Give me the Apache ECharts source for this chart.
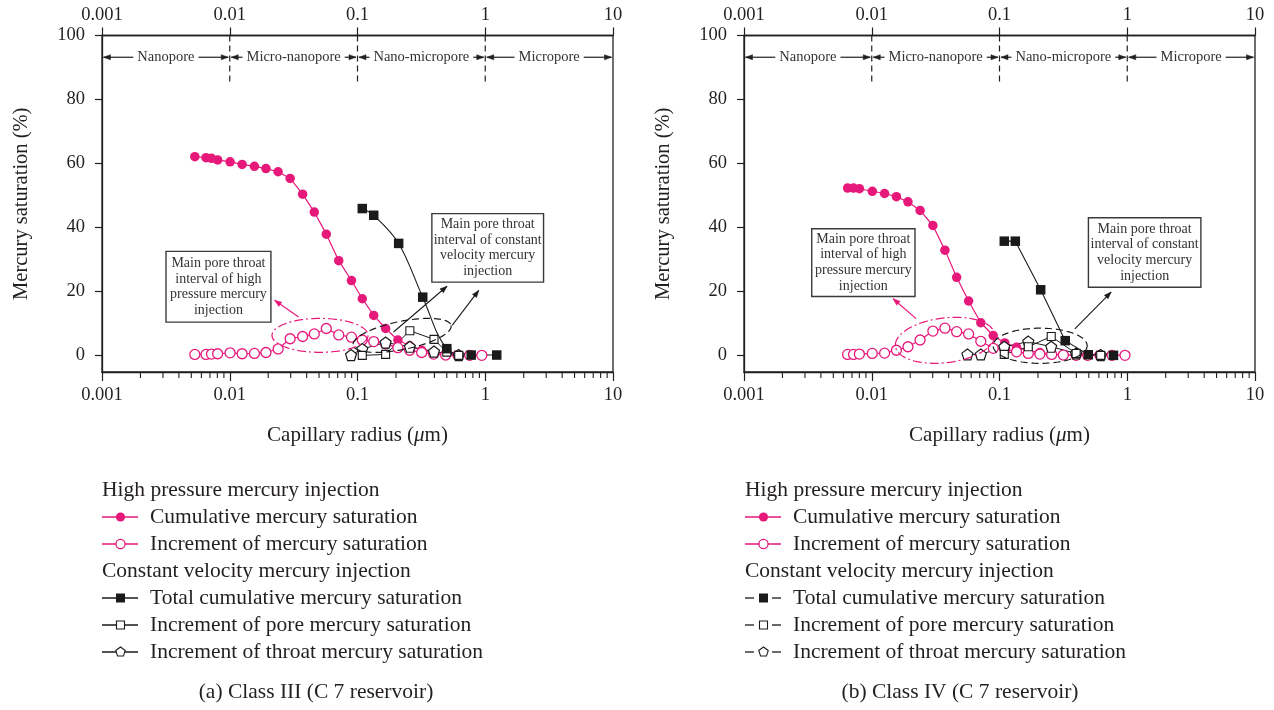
<!DOCTYPE html>
<html><head><meta charset="utf-8">
<script src="https://cdn.jsdelivr.net/npm/echarts@6/dist/echarts.min.js"></script>
<style>html,body{margin:0;padding:0;background:#fff}#c{width:1274px;height:710px}</style>
</head><body><div id="c"></div>
<script>
// ---------------- DATA ----------------
const tickValues = [0.001, 0.01, 0.1, 1, 10];
const tickLabels = ['0.001', '0.01', '0.1', '1', '10'];
const yTicks = [0, 20, 40, 60, 80, 100];
const regionBounds = [0.001, 0.01, 0.1, 1, 10];
const regionNames = ['Nanopore', 'Micro-nanopore', 'Nano-micropore', 'Micropore'];

// (a) Class III - high pressure mercury injection
const hpRadiusA = [0.00533,0.00652,0.0072,0.00804,0.01006,0.0125,0.0156,0.0192,0.0239,0.0297,0.0372,0.0459,0.0570,0.0713,0.0897,0.109,0.134,0.166,0.207,0.256,0.318,0.394,0.49,0.61,0.755,0.94];
const hpCumA    = [62.1,61.8,61.6,61.1,60.5,59.7,59.1,58.4,57.4,55.3,50.4,44.8,37.9,29.6,23.4,17.7,12.5,8.4,4.8,3.0,1.6,0.7,0.3,0.1,0,0];
const hpIncA    = [0.3,0.3,0.4,0.5,0.8,0.5,0.6,0.9,2.0,5.2,5.9,6.7,8.4,6.4,5.7,4.8,4.3,3.6,2.4,1.6,0.9,0.4,0.1,0,0,0];
// (a) constant velocity mercury injection
const cvTotRadiusA = [0.109,0.134,0.210,0.324,0.50,0.776,1.23];
const cvTotA       = [45.9,43.8,35.0,18.2,2.1,0.1,0.1];
const cvPoreRadiusA = [0.109,0.166,0.257,0.397,0.50,0.62];
const cvPoreA       = [0,0.3,7.7,5.0,1.0,0];
const cvThroatRadiusA = [0.089,0.109,0.166,0.257,0.397,0.62];
const cvThroatA       = [0.1,2.0,4.0,2.7,1.2,0.1];

// (b) Class IV - high pressure mercury injection
const hpRadiusB = [0.00647,0.0072,0.0080,0.0101,0.0126,0.0156,0.0192,0.0239,0.0301,0.0374,0.0462,0.0573,0.0714,0.0893,0.110,0.136,0.168,0.207,0.256,0.316,0.398,0.49,0.61,0.76,0.96];
const hpCumB    = [52.3,52.3,52.1,51.3,50.6,49.6,48.0,45.3,40.6,32.9,24.4,17.0,10.2,6.2,3.9,2.5,1.5,0.9,0.5,0.2,0.1,0,0,0,0];
const hpIncB    = [0.3,0.3,0.4,0.6,0.7,1.6,2.7,4.8,7.6,8.5,7.4,6.7,4.4,2.2,1.9,1.1,0.6,0.4,0.3,0.1,0,0,0,0,0];
// (b) constant velocity mercury injection
const cvTotRadiusB = [0.109,0.133,0.21,0.327,0.495,0.78];
const cvTotB       = [35.7,35.7,20.5,4.6,0.2,0];
const cvPoreRadiusB = [0.109,0.168,0.254,0.398,0.62];
const cvPoreB       = [0.3,2.7,5.9,0.6,0];
const cvThroatRadiusB = [0.0561,0.0714,0.109,0.168,0.254,0.398,0.62];
const cvThroatB       = [0.3,0.3,2.7,4.3,2.7,0.6,0.1];

const legendHeads = ['High pressure mercury injection', 'Constant velocity mercury injection'];
const legendNames = ['Cumulative mercury saturation', 'Increment of mercury saturation',
  'Total cumulative mercury saturation', 'Increment of pore mercury saturation', 'Increment of throat mercury saturation'];
const captions = ['(a) Class III (C 7 reservoir)', '(b) Class IV (C 7 reservoir)'];
const boxTexts = [['Main pore throat','interval of high','pressure mercury','injection'],
                  ['Main pore throat','interval of constant','velocity mercury','injection']];

// ---------------- LAYOUT / STYLE ----------------
const FONT = '"Liberation Serif", "Times New Roman", serif';
const INK = '#231f20';
const PINK = '#e6197b';
const BLACK = '#1a1a1a';
const Y_MIN = -5.2;
const LEG_FS = 21.5;
const grids = [{left: 102, top: 35.5, width: 511, height: 336.5}, {left: 744, top: 35.5, width: 511, height: 336.5}];
const legendX = [102, 745];
const captionX = [316, 960];
// annotation placement in data coordinates
const annot = [
  { pinkBox: [[0.00317, 32.5], [0.0210, 10.4]], blackBox: [[0.382, 44.3], [2.86, 22.9]],
    pinkEll: {c: [0.0509, 6.25], rxDec: 0.376, ry: 5.3, rot: 0},
    blackEll: {c: [0.2234, 6.25], rxDec: 0.3915, ry: 4.4, rot: 0.2},
    pinkArrows: [[[0.0346, 12.0], [0.02244, 17.2]]],
    blackArrows: [[[0.1914, 7.3], [0.502, 21.6]], [[0.551, 9.4], [0.889, 20.3]]],
    dashBlackLegend: false },
  { pinkBox: [[0.00339, 39.6], [0.0218, 18.4]], blackBox: [[0.4966, 43.0], [3.77, 21.3]],
    pinkEll: {c: [0.0375, 4.7], rxDec: 0.3915, ry: 7.0, rot: 0.12},
    blackEll: {c: [0.208, 3.0], rxDec: 0.368, ry: 5.5, rot: 0},
    pinkArrows: [[[0.02224, 11.5], [0.01469, 17.7]]],
    blackArrows: [[[0.389, 8.3], [0.748, 19.8]]],
    dashBlackLegend: true }
];

const PENT = 'path://M0,-10 L9.51,-3.09 L5.88,8.09 L-5.88,8.09 L-9.51,-3.09 Z';
const zip = (xs, ys) => xs.map((x, i) => [x, ys[i]]);
const fmtTick = v => {
  const i = tickValues.findIndex(t => Math.abs(Math.log10(t) - Math.log10(v)) < 1e-6);
  return i >= 0 ? tickLabels[i] : '';
};

const xAxes = [], yAxes = [], series = [];
[0, 1].forEach(g => {
  xAxes.push({
    type: 'log', logBase: 10, gridIndex: g, min: 0.001, max: 10, position: 'bottom',
    name: 'Capillary radius ({i|μ}m)', nameLocation: 'middle', nameGap: 53,
    nameTextStyle: {fontFamily: FONT, fontSize: 21, color: INK,
      rich: {i: {fontFamily: FONT, fontSize: 21, fontStyle: 'italic', color: INK}}},
    axisLine: {show: true, onZero: false, lineStyle: {color: INK, width: 1.3}},
    axisTick: {show: true, inside: false, length: 9, lineStyle: {color: INK, width: 1.2}},
    minorTick: {show: false},
    axisLabel: {formatter: fmtTick, fontFamily: FONT, fontSize: 18.5, color: INK, margin: 14},
    splitLine: {show: false}
  });
});
[0, 1].forEach(g => {
  xAxes.push({
    type: 'log', logBase: 10, gridIndex: g, min: 0.001, max: 10, position: 'top',
    axisLine: {show: true, onZero: false, lineStyle: {color: INK, width: 1.3}},
    axisTick: {show: true, inside: false, length: 8, lineStyle: {color: INK, width: 1.2}},
    axisLabel: {formatter: fmtTick, fontFamily: FONT, fontSize: 18.5, color: INK, margin: 11},
    splitLine: {show: false}
  });
  yAxes.push({
    type: 'value', gridIndex: g, min: Y_MIN, max: 100,
    name: 'Mercury saturation (%)', nameLocation: 'middle', nameGap: 70,
    nameTextStyle: {fontFamily: FONT, fontSize: 20.5, color: INK},
    axisLine: {show: true, onZero: false, lineStyle: {color: INK, width: 1.3}},
    axisTick: {show: true, inside: false, length: 7, customValues: yTicks, lineStyle: {color: INK, width: 1.2}},
    axisLabel: {customValues: yTicks, fontFamily: FONT, fontSize: 18.5, color: INK, margin: 17},
    splitLine: {show: false}
  });
});

function addSeries(g, d) {
  const base = {type: 'line', xAxisIndex: g, yAxisIndex: g, animation: false, z: 3};
  series.push(Object.assign({}, base, {name: legendNames[0], data: zip(d.hpR, d.hpCum),
    symbol: 'circle', symbolSize: 9.5, lineStyle: {color: PINK, width: 1.2},
    itemStyle: {color: PINK}}));
  series.push(Object.assign({}, base, {name: legendNames[1], data: zip(d.hpR, d.hpInc),
    symbol: 'circle', symbolSize: 10, lineStyle: {color: PINK, width: 1.2},
    itemStyle: {color: '#fff', borderColor: PINK, borderWidth: 1.3}}));
  series.push(Object.assign({}, base, {name: legendNames[4], data: zip(d.thR, d.th),
    symbol: PENT, symbolSize: 11, lineStyle: {color: BLACK, width: 1},
    itemStyle: {color: '#fff', borderColor: BLACK, borderWidth: 1.2}}));
  series.push(Object.assign({}, base, {name: legendNames[3], data: zip(d.poR, d.po),
    symbol: 'rect', symbolSize: 8, lineStyle: {color: BLACK, width: 1},
    itemStyle: {color: '#fff', borderColor: BLACK, borderWidth: 1.1}}));
  series.push(Object.assign({}, base, {name: legendNames[2], data: zip(d.totR, d.tot),
    symbol: 'rect', symbolSize: 9.5, smooth: d.smooth, lineStyle: {color: BLACK, width: 1.1},
    itemStyle: {color: BLACK}}));
}
addSeries(0, {hpR: hpRadiusA, hpCum: hpCumA, hpInc: hpIncA, totR: cvTotRadiusA, tot: cvTotA,
  poR: cvPoreRadiusA, po: cvPoreA, thR: cvThroatRadiusA, th: cvThroatA, smooth: 0.35});
addSeries(1, {hpR: hpRadiusB, hpCum: hpCumB, hpInc: hpIncB, totR: cvTotRadiusB, tot: cvTotB,
  poR: cvPoreRadiusB, po: cvPoreB, thR: cvThroatRadiusB, th: cvThroatB, smooth: false});

const chart = echarts.init(document.getElementById('c'), null, {renderer: 'canvas'});
chart.setOption({
  animation: false,
  backgroundColor: '#fff',
  grid: grids.map(g => Object.assign({show: true, borderColor: INK, borderWidth: 1.3, backgroundColor: 'transparent'}, g)),
  xAxis: xAxes, yAxis: yAxes, series: series
});

// ---------------- ANNOTATIONS (via axis scales) ----------------
const ctx = document.createElement('canvas').getContext('2d');
const measure = (t, size) => { ctx.font = size + 'px ' + FONT; return ctx.measureText(t).width; };
const P = (g, x, y) => chart.convertToPixel({xAxisIndex: g, yAxisIndex: g}, [x, y]);
const els = [];
const line = (x1, y1, x2, y2, stroke, w, dash) => els.push({type: 'line', silent: true, z: 10,
  shape: {x1, y1, x2, y2}, style: {stroke, lineWidth: w || 1.2, lineDash: dash || null}});
const text = (t, x, y, size, align, fill) => els.push({type: 'text', silent: true, z: 12,
  style: {text: t, x, y, font: size + 'px ' + FONT, fill: fill || INK, textAlign: align || 'left',
    textVerticalAlign: 'middle', verticalAlign: 'middle'}});
const arrowHead = (tx, ty, fx, fy, color, len, half) => {
  const dx = tx - fx, dy = ty - fy, L = Math.hypot(dx, dy) || 1, ux = dx / L, uy = dy / L;
  len = len || 7; half = half || 2.6;
  const bx = tx - ux * len, by = ty - uy * len;
  els.push({type: 'polygon', silent: true, z: 11, shape: {points: [[tx, ty], [bx - uy * half, by + ux * half], [bx + uy * half, by - ux * half]]},
    style: {fill: color, stroke: color, lineWidth: 0.5}});
};
const ellipse = (g, e, stroke, dash) => {
  const c = P(g, e.c[0], e.c[1]);
  const rx = P(g, e.c[0] * Math.pow(10, e.rxDec), e.c[1])[0] - c[0];
  const ry = P(g, e.c[0], e.c[1] - e.ry)[1] - c[1];
  const pts = [];
  for (let i = 0; i < 96; i++) {
    const a = i / 96 * Math.PI * 2, x = rx * Math.cos(a), y = ry * Math.sin(a);
    pts.push([c[0] + x * Math.cos(e.rot) + y * Math.sin(e.rot), c[1] - x * Math.sin(e.rot) + y * Math.cos(e.rot)]);
  }
  els.push({type: 'polygon', silent: true, z: 9, shape: {points: pts}, style: {fill: null, stroke, lineWidth: 1.2, lineDash: dash}});
};
const box = (g, b, lines) => {
  const a = P(g, b[0][0], b[0][1]), c = P(g, b[1][0], b[1][1]);
  els.push({type: 'rect', silent: true, z: 11, shape: {x: a[0], y: a[1], width: c[0] - a[0], height: c[1] - a[1]},
    style: {fill: '#fff', stroke: '#3a3a3a', lineWidth: 1.4}});
  const cx = (a[0] + c[0]) / 2, cy = (a[1] + c[1]) / 2;
  lines.forEach((t, i) => text(t, cx, cy + (i - 1.5) * 15.6, 14, 'center', '#333'));
};

[0, 1].forEach(g => {
  const yb = P(g, 1, Y_MIN)[1];
  // minor ticks on the bottom log axis
  for (let d = -3; d < 1; d++) for (let k = 2; k <= 9; k++) {
    const x = P(g, k * Math.pow(10, d), Y_MIN)[0];
    line(x, yb, x, yb + 6, INK, 1.1);
  }
  // region boundaries (dashed) and labelled double arrows
  const yTopDash = P(g, 1, 100)[1], yEndDash = P(g, 1, 85.2)[1], yArr = P(g, 1, 93.2)[1];
  regionBounds.slice(1, -1).forEach(v => { const x = P(g, v, 0)[0]; line(x, yTopDash, x, yEndDash, INK, 1.2, [6, 4]); });
  regionNames.forEach((nm, i) => {
    const a = regionBounds[i], b = regionBounds[i + 1];
    const xa = P(g, a, 0)[0], xb = P(g, b, 0)[0], xc = P(g, Math.sqrt(a * b), 0)[0];
    const w = measure(nm, 14.5);
    const s1 = xa + 1.5, e1 = xc - w / 2 - 4, s2 = xc + w / 2 + 4, e2 = xb - 1.5;
    line(s1, yArr, e1, yArr, INK, 1.2); arrowHead(s1, yArr, e1, yArr, INK);
    line(s2, yArr, e2, yArr, INK, 1.2); arrowHead(e2, yArr, s2, yArr, INK);
    text(nm, xc, yArr, 14.5, 'center', '#333');
  });
  const A = annot[g];
  ellipse(g, A.pinkEll, PINK, [9, 3, 2, 3]);
  ellipse(g, A.blackEll, BLACK, [7, 4]);
  A.pinkArrows.forEach(ar => { const f = P(g, ar[0][0], ar[0][1]), t = P(g, ar[1][0], ar[1][1]);
    line(f[0], f[1], t[0], t[1], PINK, 1.2); arrowHead(t[0], t[1], f[0], f[1], PINK, 7, 2.6); });
  A.blackArrows.forEach(ar => { const f = P(g, ar[0][0], ar[0][1]), t = P(g, ar[1][0], ar[1][1]);
    line(f[0], f[1], t[0], t[1], BLACK, 1.1); arrowHead(t[0], t[1], f[0], f[1], BLACK, 7, 2.6); });
  box(g, A.pinkBox, boxTexts[0]);
  box(g, A.blackBox, boxTexts[1]);

  // legend block
  const lx = legendX[g], rowY = [490, 517, 544, 571, 598, 625, 652];
  const tx = lx + 48, mx = lx + 18.5, l0 = lx, l1 = lx + 36;
  text(legendHeads[0], lx, rowY[0], LEG_FS);
  text(legendHeads[1], lx, rowY[3], LEG_FS);
  const entries = [[1, 0], [2, 1], [4, 2], [5, 3], [6, 4]];
  entries.forEach(([r, k]) => {
    const y = rowY[r], black = k >= 2, col = black ? BLACK : PINK;
    if (black && A.dashBlackLegend) { line(l0, y, l0 + 9, y, col, 1.3); line(l1 - 9, y, l1, y, col, 1.3); }
    else line(l0, y, l1, y, col, 1.3);
    if (k === 0) els.push({type: 'circle', silent: true, z: 12, shape: {cx: mx, cy: y, r: 4.6}, style: {fill: PINK}});
    if (k === 1) els.push({type: 'circle', silent: true, z: 12, shape: {cx: mx, cy: y, r: 4.6}, style: {fill: '#fff', stroke: PINK, lineWidth: 1.3}});
    if (k === 2) els.push({type: 'rect', silent: true, z: 12, shape: {x: mx - 4.5, y: y - 4.5, width: 9, height: 9}, style: {fill: BLACK}});
    if (k === 3) els.push({type: 'rect', silent: true, z: 12, shape: {x: mx - 4, y: y - 4, width: 8, height: 8}, style: {fill: '#fff', stroke: BLACK, lineWidth: 1.1}});
    if (k === 4) { const pts = []; for (let i = 0; i < 5; i++) { const a = -Math.PI / 2 + i * 2 * Math.PI / 5; pts.push([mx + 5 * Math.cos(a), y + 5 * Math.sin(a)]); }
      els.push({type: 'polygon', silent: true, z: 12, shape: {points: pts}, style: {fill: '#fff', stroke: BLACK, lineWidth: 1.1}}); }
    text(legendNames[k], tx, y, LEG_FS);
  });
  text(captions[g], captionX[g], 692, LEG_FS, 'center');
});
chart.setOption({graphic: {elements: els}});
</script></body></html>
